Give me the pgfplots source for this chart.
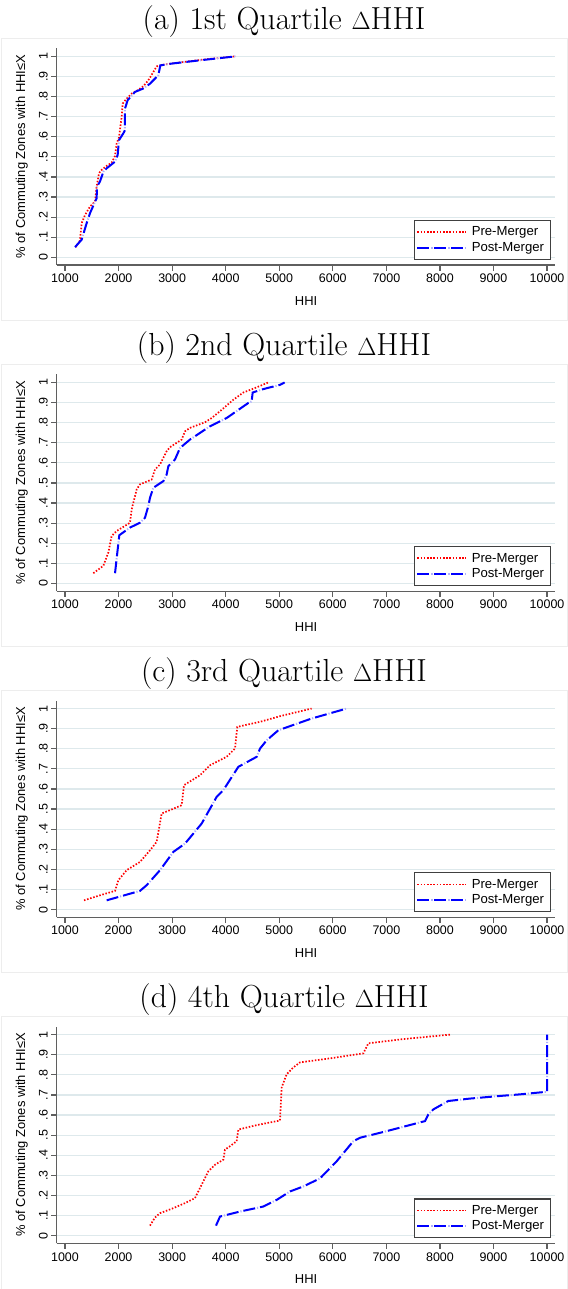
\documentclass[border=0pt]{standalone}
\usepackage{pgfplots}
\pgfplotsset{compat=1.18}
\usepackage{pgfplotstable}
\usepackage{fontspec}
\newfontfamily\arial{Liberation Sans}
\definecolor{gridcol}{RGB}{222,233,236}
\definecolor{axcol}{RGB}{95,95,95}
\definecolor{sred}{RGB}{255,0,0}
\definecolor{sblue}{RGB}{0,0,255}
\definecolor{sdot}{RGB}{175,175,255}

\pgfplotstableread{
x y
1200 0.051
1280 0.084
1311 0.17
1373 0.21
1467 0.253
1560 0.278
1591 0.352
1635 0.418
1666 0.431
1778 0.455
1871 0.471
1933 0.504
1965 0.567
2008 0.597
2058 0.70
2077 0.765
2151 0.79
2245 0.815
2338 0.828
2462 0.851
2556 0.881
2649 0.922
2711 0.950
2867 0.960
3302 0.975
3614 0.985
4190 1.0
}\preA
\pgfplotstableread{
x y
1187 0.051
1311 0.088
1404 0.17
1467 0.22
1548 0.269
1591 0.294
1597 0.352
1653 0.377
1716 0.426
1778 0.443
1933 0.476
1983 0.509
2008 0.583
2089 0.617
2120 0.633
2120 0.74
2170 0.782
2307 0.823
2462 0.84
2587 0.864
2742 0.906
2780 0.955
2991 0.964
3614 0.983
4190 1.0
}\postA
\pgfplotstableread{
x y
1529 0.051
1716 0.088
1809 0.154
1871 0.236
1965 0.261
2213 0.302
2245 0.369
2338 0.468
2400 0.493
2618 0.517
2680 0.567
2774 0.592
2898 0.658
2960 0.678
3178 0.716
3240 0.757
3334 0.774
3614 0.802
3738 0.823
3925 0.864
4143 0.914
4330 0.950
4517 0.969
4797 1.0
}\preB
\pgfplotstableread{
x y
1934 0.051
1977 0.154
2014 0.24
2213 0.278
2400 0.302
2493 0.327
2556 0.385
2587 0.426
2649 0.476
2836 0.509
2898 0.542
2929 0.583
3054 0.617
3147 0.674
3334 0.716
3707 0.782
4018 0.823
4423 0.898
4485 0.906
4504 0.950
4703 0.967
5014 0.988
5100 1.0
}\postB
\pgfplotstableread{
x y
1355 0.046
1653 0.071
1934 0.093
1996 0.146
2151 0.196
2400 0.237
2587 0.295
2711 0.337
2805 0.478
2991 0.498
3178 0.519
3222 0.619
3520 0.668
3707 0.718
4018 0.76
4174 0.801
4217 0.909
4641 0.934
5014 0.962
5604 1.0
}\preC
\pgfplotstableread{
x y
1778 0.046
2400 0.093
2524 0.121
2774 0.196
3023 0.287
3240 0.328
3552 0.428
3832 0.561
3956 0.594
4236 0.71
4579 0.76
4641 0.801
4765 0.842
4983 0.892
5600 0.95
6260 1.0
}\postC
\pgfplotstableread{
x y
2587 0.05
2680 0.09
2774 0.112
3023 0.137
3240 0.162
3427 0.187
3520 0.237
3676 0.32
3801 0.353
3956 0.378
3987 0.428
4080 0.445
4205 0.47
4236 0.528
4579 0.55
5014 0.573
5045 0.737
5138 0.803
5263 0.837
5387 0.862
5947 0.882
6570 0.907
6663 0.957
7316 0.978
8187 1.0
}\preD
\pgfplotstableread{
x y
3819 0.05
3894 0.095
4267 0.12
4703 0.145
4952 0.178
5201 0.22
5450 0.245
5761 0.285
6072 0.37
6383 0.47
6507 0.487
7005 0.52
7721 0.57
7783 0.603
7876 0.628
8156 0.67
8561 0.682
9121 0.695
9495 0.703
10000 0.716
10000 1.0
}\postD

\tikzset{
  redline/.style={draw=sred, line width=1.7bp, dash pattern=on 1.5bp off 1.7bp},
  blueline/.style={draw=sblue, line width=2bp, dash pattern=on 12bp off 5bp},
  dotline/.style={draw=sdot, line width=2bp, dash pattern=on 1.2bp off 15.8bp, dash phase=3.1bp},
}

\pgfplotsset{
 every axis title/.style={at={([yshift=19.3bp]axis description cs:0.4558,1)}, anchor=base, font=\fontsize{32}{38}\selectfont},
 stata/.style={
  scale only axis, width=498.7bp, height=216.7bp,
  xmin=845, xmax=10156, ymin=-0.038, ymax=1.04,
  axis x line*=bottom, axis y line*=left,
  axis line style={draw=axcol, line width=1.2bp},
  tick align=outside, major tick length=5.5bp,
  tick style={draw=axcol, line width=1.2bp},
  scaled x ticks=false, scaled y ticks=false,
  xtick={1000,2000,3000,4000,5000,6000,7000,8000,9000,10000},
  xticklabels={1000,2000,3000,4000,5000,6000,7000,8000,9000,10000},
  ytick={0,0.1,0.2,0.3,0.4,0.5,0.6,0.7,0.8,0.9,1},
  yticklabels={0,.1,.2,.3,.4,.5,.6,.7,.8,.9,1},
  minor tick num=0,
  ymajorgrids, major grid style={draw=gridcol, line width=1.2bp},
  tick label style={font=\arial\fontsize{12.5}{15}\selectfont},
  yticklabel style={rotate=90, anchor=south},
  xlabel={HHI}, ylabel={\% of Commuting Zones with HHI≤X},
  label style={font=\arial\fontsize{13}{15}\selectfont},
  xlabel style={at={([yshift=-36bp]axis description cs:0.5,0)}, anchor=center},
  ylabel style={at={([xshift=-35bp]axis description cs:0,0.5)}, anchor=center},
  legend style={at={([xshift=-4.4bp,yshift=5.3bp]axis description cs:1,0)}, anchor=south east,
    draw=black!75, line width=1.2bp, fill=white,
    font=\arial\fontsize{13.2}{15}\selectfont,
    inner xsep=2bp, inner ysep=3.9bp, row sep=0pt,
    nodes={inner ysep=2.4bp, inner xsep=4.3bp},
    cells={anchor=west}},
  legend cell align=left,
  legend image code/.code={\draw[##1] (0bp,0bp) -- (49bp,0bp);},
 },
 preplot/.style={redline, no markers},
 postplot/.style={blueline, no markers,
   legend image code/.code={\draw[dotline] (0bp,0bp) -- (49bp,0bp); \draw[##1] (0bp,0bp) -- (49bp,0bp);}},
}

\begin{document}
\begin{tikzpicture}
\path[use as bounding box] (0bp,0bp) rectangle (568bp,-1289bp);
\foreach \k in {0,1,2,3}{
  \draw[black!7, line width=0.8bp] (1.5bp,{-38.3bp-326.1bp*\k}) rectangle (567bp,{-320bp-326.1bp*\k});
}
% (a)
\begin{axis}[stata, at={(56.7bp,-265bp)}, anchor=south west, title={(a) 1st Quartile $\Delta$HHI}]
\addplot[preplot] table {\preA};
\addplot[dotline, no markers, forget plot] table {\postA};
\addplot[postplot] table {\postA};
\legend{Pre-Merger,Post-Merger}
\end{axis}
% (b)
\begin{axis}[stata, at={(56.7bp,-591.1bp)}, anchor=south west, title={(b) 2nd Quartile $\Delta$HHI}]
\addplot[preplot] table {\preB};
\addplot[dotline, no markers, forget plot] table {\postB};
\addplot[postplot] table {\postB};
\legend{Pre-Merger,Post-Merger}
\end{axis}
% (c)
\begin{axis}[stata, at={(56.7bp,-917.2bp)}, anchor=south west, title={(c) 3rd Quartile $\Delta$HHI}]
\addplot[preplot] table {\preC};
\addplot[dotline, no markers, forget plot] table {\postC};
\addplot[postplot] table {\postC};
\legend{Pre-Merger,Post-Merger}
\end{axis}
% (d)
\begin{axis}[stata, at={(56.7bp,-1243.3bp)}, anchor=south west, title={(d) 4th Quartile $\Delta$HHI}]
\addplot[preplot] table {\preD};
\addplot[dotline, no markers, forget plot] table {\postD};
\addplot[postplot] table {\postD};
\legend{Pre-Merger,Post-Merger}
\end{axis}
\end{tikzpicture}
\end{document}
